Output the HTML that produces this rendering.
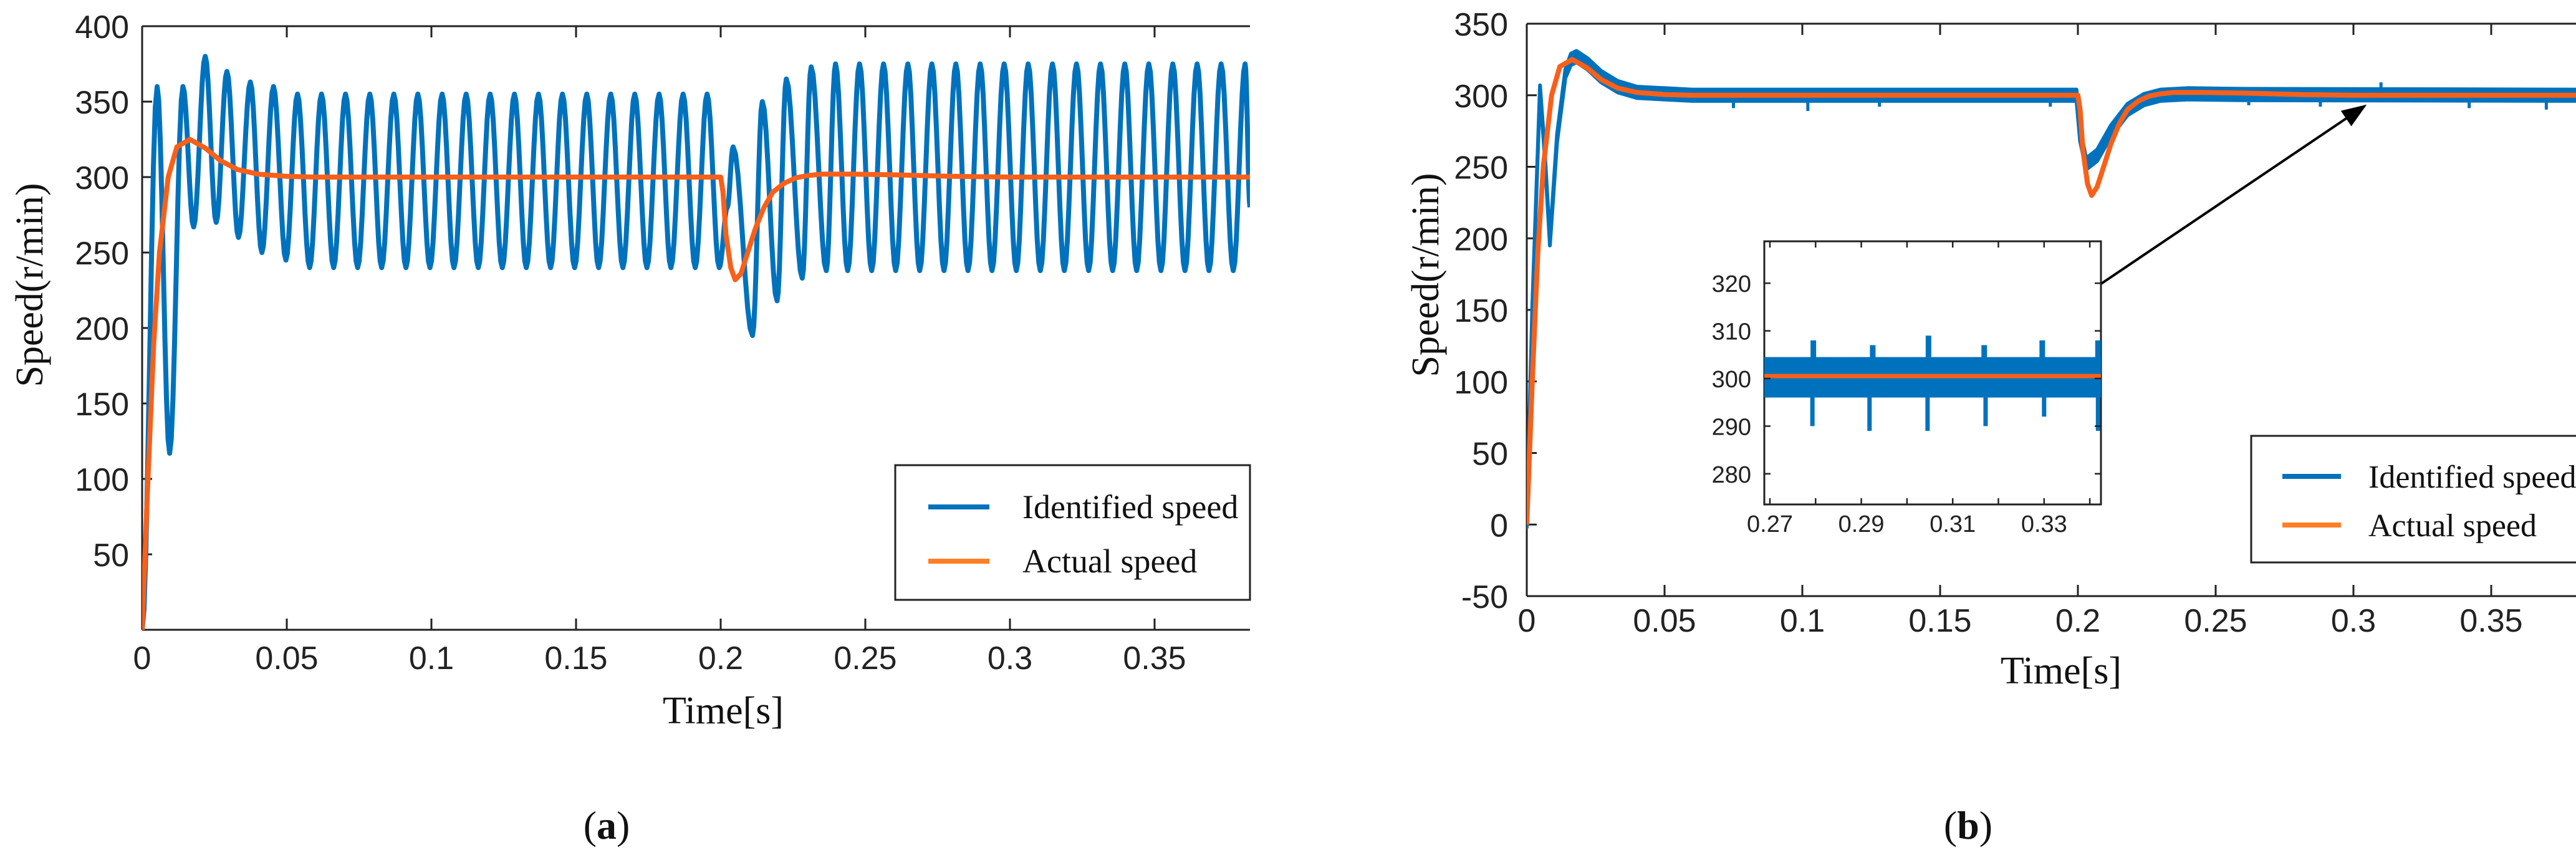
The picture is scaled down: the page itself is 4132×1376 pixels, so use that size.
<!DOCTYPE html>
<html><head><meta charset="utf-8"><style>
html,body{margin:0;padding:0;background:#fff;}
svg{display:block;}
.tk{font-family:"Liberation Sans",sans-serif;font-size:52px;fill:#222;}
.tki{font-family:"Liberation Sans",sans-serif;font-size:38px;fill:#222;}
.sr{font-family:"Liberation Serif",serif;fill:#111;}
</style></head><body>
<svg id="fig" width="4132" height="1376" viewBox="0 0 4132 1376" xmlns="http://www.w3.org/2000/svg">
<defs>
<clipPath id="ca"><rect x="228" y="30" width="1777" height="990"/></clipPath>
<clipPath id="cb"><rect x="2449" y="30" width="1683" height="930"/></clipPath>
<clipPath id="ci"><rect x="2830" y="387" width="540" height="422"/></clipPath>
<marker id="ah" markerWidth="40" markerHeight="30" refX="36" refY="15" orient="auto" markerUnits="userSpaceOnUse" viewBox="0 0 40 30"><path d="M0,0 L40,15 L0,30 z" fill="#000"/></marker>
</defs>
<g id="pa"></g>
<g id="pb"></g>
</svg>
<script>
// ---- Panel (a) data ----
const aBlueT = [0,0.0052,0.0095,0.0141,0.0178,0.0218,0.0256,0.0293,0.0333,0.0374,0.0414,0.0454,0.0497,0.0537,
0.0579,0.0620,0.0662,0.0703,0.0745,0.0787,0.0828,0.0870,0.0912,0.0953,0.0995,0.1037,0.1078,0.1120,0.1162,0.1203,0.1245,0.1287,0.1328,0.1370,0.1412,0.1453,0.1495,0.1537,0.1578,0.1620,0.1662,0.1703,0.1745,0.1787,0.1828,0.1870,0.1912,0.1953,0.1995,
0.2023,0.2043,0.2110,0.2144,0.2195,0.2227,0.2282,0.2313,0.2365,0.2397,
0.2439,0.2480,0.2522,0.2563,0.2605,0.2647,0.2688,0.2730,0.2772,0.2813,0.2855,0.2897,0.2938,0.2980,0.3022,0.3063,0.3105,0.3147,0.3188,0.3230,0.3272,0.3313,0.3355,0.3397,0.3438,0.3480,0.3522,0.3563,0.3605,0.3647,0.3688,0.3730,0.3772,0.3813,0.3830];
const aBlueV = [0,360,117,360,267,380,270,370,260,363,250,360,245,355,
240,355,240,355,240,355,240,355,240,355,240,355,240,355,240,355,240,355,240,355,240,355,240,355,240,355,240,355,240,355,240,355,240,355,240,
280,320,195,350,218,365,233,373,238,375,
238,375,238,375,238,375,238,375,238,375,238,375,238,375,238,375,238,375,238,375,238,375,238,375,238,375,238,375,238,375,238,375,238,375,280];
const aActT = [0,0.002,0.004,0.006,0.009,0.012,0.0165,0.022,0.027,0.033,0.04,0.05,0.06,0.2,0.2008,0.2018,0.2035,0.205,0.207,0.209,0.212,0.215,0.218,0.222,0.226,0.23,0.235,0.245,0.26,0.28,0.3,0.383];
const aActV = [0,100,190,250,300,320,325,319,311,305,302,300.5,300,300,290,262,240,232,236,248,266,280,290,296,299.5,301,302,302,301.5,300.5,300,300];
const aXTicks = [0,0.05,0.1,0.15,0.2,0.25,0.3,0.35];
const aXLabels = ["0","0.05","0.1","0.15","0.2","0.25","0.3","0.35"];
const aYTicks = [50,100,150,200,250,300,350,400];
const aYLabels = ["50","100","150","200","250","300","350","400"];

// ---- Panel (b) data ----
const bBlueT = [0,0.002,0.0048,0.0065,0.0084,0.011,0.014,0.016,0.018,0.022,0.027,0.033,0.04,0.05,0.06,0.1995,0.2008,0.203,0.207,0.212,0.218,0.224,0.23,0.24,0.26,0.381];
const bBlueV = [0,150,305,260,197,270,315,325,327,322,313,306,302,301,300,300,272,252,258,275,290,297,300,301,300.5,300];
const bBlueAmp = [2,2,2,2,2,3,3,4,4,4,4,4,4,4,4,4,4,4,4,4,4,4,4,4,4,4];
const bSpikeT = [0.075,0.102,0.128,0.19,0.262,0.288,0.31,0.342,0.37];
const bSpikeV = [291,289,292,292,293,292,309,291,290];
const bActT = [0,0.002,0.004,0.006,0.009,0.012,0.0165,0.022,0.027,0.033,0.04,0.05,0.06,0.2,0.2008,0.2018,0.2035,0.205,0.207,0.209,0.212,0.215,0.218,0.222,0.226,0.23,0.235,0.245,0.26,0.28,0.3,0.381];
const bActV = [0,100,190,250,300,320,325,319,311,305,302,300.5,300,300,290,262,238,230,236,248,266,280,290,296,299.5,301,302,302,301.5,300.5,300,300];
const bXTicks = [0,0.05,0.1,0.15,0.2,0.25,0.3,0.35];
const bXLabels = ["0","0.05","0.1","0.15","0.2","0.25","0.3","0.35"];
const bYTicks = [-50,0,50,100,150,200,250,300,350];
const bYLabels = ["-50","0","50","100","150","200","250","300","350"];

// ---- Inset data ----
const iSpikeUpT = [0.2795,0.2925,0.3047,0.3169,0.3296,0.3418];
const iSpikeUpV = [308,307,309,307,308,308];
const iSpikeDnT = [0.2793,0.2918,0.3045,0.3172,0.3300,0.3418];
const iSpikeDnV = [290,289,289,290,292,289];
const iBand = [296,304.5];
const iActV = 300.5;
const iXTicks = [0.27,0.29,0.31,0.33];
const iXLabels = ["0.27","0.29","0.31","0.33"];
const iYTicks = [280,290,300,310,320];
const iYLabels = ["280","290","300","310","320"];

const NS = "http://www.w3.org/2000/svg";
function mk(tag, attrs, parent){const e=document.createElementNS(NS,tag);for(const k in attrs)e.setAttribute(k,attrs[k]);parent.appendChild(e);return e;}

const xa=t=>228+t/0.05*232, ya=v=>1010-v*968/400;
const xb=t=>2449+t/0.05*221, yb=v=>956-(v+50)*918/400;
const xi=t=>2839+(t-0.27)/0.01*73.3, yi=v=>607-(v-300)*7.64;

const BLUE="#0072BD", ORANGE="#F8601A";

function cosPath(T,V,fx,fy){let d=`M${fx(T[0])},${fy(V[0])}`;for(let i=1;i<T.length;i++){for(let s=1;s<=8;s++){const f=s/8,w=(1-Math.cos(Math.PI*f))/2;d+=` L${fx(T[i-1]+(T[i]-T[i-1])*f).toFixed(1)},${fy(V[i-1]+(V[i]-V[i-1])*w).toFixed(1)}`;}}return d;}
function linPath(T,V,fx,fy){return T.map((t,i)=>(i?'L':'M')+fx(t).toFixed(1)+','+fy(V[i]).toFixed(1)).join(' ');}

// ===== Panel a =====
const pa=document.getElementById('pa');
let e;
e=mk('line',{x1:228,y1:42,x2:2005,y2:42,stroke:'#222','stroke-width':3},pa);


e=mk('line',{x1:228,y1:1010,x2:2005,y2:1010,stroke:'#222','stroke-width':3},pa);


e=mk('line',{x1:228,y1:42,x2:228,y2:1010,stroke:'#222','stroke-width':3},pa);


aXTicks.forEach((t,i)=>{const x=xa(t);
 mk('line',{x1:x,y1:1010,x2:x,y2:992,stroke:'#222','stroke-width':3},pa);
 mk('line',{x1:x,y1:42,x2:x,y2:60,stroke:'#222','stroke-width':3},pa);
 const l=mk('text',{x:x,y:1073,'text-anchor':'middle',class:'tk'},pa);l.textContent=aXLabels[i];
 
 });
aYTicks.forEach((v,i)=>{const y=ya(v);
 mk('line',{x1:228,y1:y,x2:244,y2:y,stroke:'#222','stroke-width':3},pa);
 const l=mk('text',{x:207,y:y+19,'text-anchor':'end',class:'tk'},pa);l.textContent=aYLabels[i];
 
 });
const ga=mk('g',{'clip-path':'url(#ca)'},pa);
e=mk('path',{d:cosPath(aBlueT,aBlueV,xa,ya),fill:'none',stroke:BLUE,'stroke-width':8,'stroke-linejoin':'round'},ga);


e=mk('path',{d:linPath(aActT,aActV,xa,ya),fill:'none',stroke:ORANGE,'stroke-width':8,'stroke-linejoin':'round'},ga);


// legend a
const la=mk('g',{},pa);


mk('rect',{x:1436,y:746,width:569,height:216,fill:'#fff',stroke:'#222','stroke-width':3},la);
mk('line',{x1:1489,y1:813,x2:1587,y2:813,stroke:BLUE,'stroke-width':8},la);
mk('line',{x1:1489,y1:900,x2:1587,y2:900,stroke:'#FF7F27','stroke-width':8},la);
e=mk('text',{x:1640,y:831,class:'sr','font-size':54},la);e.textContent='Identified speed';


e=mk('text',{x:1640,y:918,class:'sr','font-size':54},la);e.textContent='Actual speed';


e=mk('text',{x:1160,y:1160,'text-anchor':'middle',class:'sr','font-size':62},pa);e.textContent='Time[s]';


e=mk('text',{x:0,y:0,'text-anchor':'middle',class:'sr','font-size':62,transform:'translate(68,457) rotate(-90)'},pa);e.textContent='Speed(r/min)';


e=mk('text',{x:973,y:1345,'text-anchor':'middle',class:'sr','font-size':64},pa);e.innerHTML='(<tspan font-weight="bold">a</tspan>)';



// ===== Panel b =====
const pb=document.getElementById('pb');
e=mk('line',{x1:2449,y1:38,x2:4132,y2:38,stroke:'#222','stroke-width':3},pb);


e=mk('line',{x1:2449,y1:956,x2:4132,y2:956,stroke:'#222','stroke-width':3},pb);


e=mk('line',{x1:2449,y1:38,x2:2449,y2:956,stroke:'#222','stroke-width':3},pb);


bXTicks.forEach((t,i)=>{const x=xb(t);
 mk('line',{x1:x,y1:956,x2:x,y2:938,stroke:'#222','stroke-width':3},pb);
 mk('line',{x1:x,y1:38,x2:x,y2:56,stroke:'#222','stroke-width':3},pb);
 const l=mk('text',{x:x,y:1013,'text-anchor':'middle',class:'tk'},pb);l.textContent=bXLabels[i];
 
 });
bYTicks.forEach((v,i)=>{const y=yb(v);
 mk('line',{x1:2449,y1:y,x2:2465,y2:y,stroke:'#222','stroke-width':3},pb);
 const l=mk('text',{x:2419,y:y+19,'text-anchor':'end',class:'tk'},pb);l.textContent=bYLabels[i];
 
 });
const gb=mk('g',{'clip-path':'url(#cb)'},pb);
let up=[],dn=[];
for(let i=0;i<bBlueT.length;i++){up.push(xb(bBlueT[i]).toFixed(1)+','+yb(bBlueV[i]+bBlueAmp[i]).toFixed(1));dn.push(xb(bBlueT[i]).toFixed(1)+','+yb(bBlueV[i]-bBlueAmp[i]).toFixed(1));}
e=mk('polygon',{points:up.concat(dn.reverse()).join(' '),fill:BLUE,stroke:BLUE,'stroke-width':6,'stroke-linejoin':'round'},gb);


bSpikeT.forEach((t,i)=>{const s=mk('line',{x1:xb(t),y1:yb(300),x2:xb(t),y2:yb(bSpikeV[i]),stroke:BLUE,'stroke-width':5},gb);
 
 });
e=mk('path',{d:linPath(bActT,bActV,xb,yb),fill:'none',stroke:ORANGE,'stroke-width':8,'stroke-linejoin':'round'},gb);


// arrow
e=mk('line',{x1:3317,y1:491,x2:3793,y2:170,stroke:'#000','stroke-width':4,'marker-end':'url(#ah)'},pb);


// inset
const gi=mk('g',{},pb);


mk('rect',{x:2830,y:387,width:540,height:422,fill:'#fff',stroke:'#222','stroke-width':3},gi);
const gic=mk('g',{'clip-path':'url(#ci)'},gi);
e=mk('rect',{x:2830,y:yi(iBand[1]),width:540,height:yi(iBand[0])-yi(iBand[1]),fill:BLUE},gic);


iSpikeUpT.forEach((t,i)=>{const s=mk('line',{x1:xi(t),y1:yi(300),x2:xi(t),y2:yi(iSpikeUpV[i]),stroke:BLUE,'stroke-width':9},gic);
 
 });
iSpikeDnT.forEach((t,i)=>{const s=mk('line',{x1:xi(t),y1:yi(300),x2:xi(t),y2:yi(iSpikeDnV[i]),stroke:BLUE,'stroke-width':7},gic);
 
 });
e=mk('line',{x1:2830,y1:yi(iActV),x2:3370,y2:yi(iActV),stroke:ORANGE,'stroke-width':7},gic);


[0.27,0.28,0.29,0.30,0.31,0.32,0.33,0.34].forEach(t=>{const x=xi(t);
 mk('line',{x1:x,y1:809,x2:x,y2:799,stroke:'#222','stroke-width':2.5},gi);
 mk('line',{x1:x,y1:387,x2:x,y2:397,stroke:'#222','stroke-width':2.5},gi);});
iXTicks.forEach((t,i)=>{const l=mk('text',{x:xi(t),y:853,'text-anchor':'middle',class:'tki'},gi);l.textContent=iXLabels[i];
 
 });
iYTicks.forEach((v,i)=>{const y=yi(v);
 mk('line',{x1:2830,y1:y,x2:2840,y2:y,stroke:'#222','stroke-width':2.5},gi);
 mk('line',{x1:3370,y1:y,x2:3360,y2:y,stroke:'#222','stroke-width':2.5},gi);
 const l=mk('text',{x:2809,y:y+14,'text-anchor':'end',class:'tki'},gi);l.textContent=iYLabels[i];
 
 });
// legend b
const lb=mk('g',{},pb);


mk('rect',{x:3611,y:699,width:540,height:203,fill:'#fff',stroke:'#222','stroke-width':3},lb);
mk('line',{x1:3661,y1:764,x2:3755,y2:764,stroke:BLUE,'stroke-width':8},lb);
mk('line',{x1:3661,y1:842,x2:3755,y2:842,stroke:'#FF7F27','stroke-width':8},lb);
e=mk('text',{x:3799,y:782,class:'sr','font-size':52},lb);e.textContent='Identified speed';


e=mk('text',{x:3799,y:860,class:'sr','font-size':52},lb);e.textContent='Actual speed';


e=mk('text',{x:3306,y:1096,'text-anchor':'middle',class:'sr','font-size':62},pb);e.textContent='Time[s]';


e=mk('text',{x:0,y:0,'text-anchor':'middle',class:'sr','font-size':62,transform:'translate(2307,441) rotate(-90)'},pb);e.textContent='Speed(r/min)';


e=mk('text',{x:3157,y:1345,'text-anchor':'middle',class:'sr','font-size':64},pb);e.innerHTML='(<tspan font-weight="bold">b</tspan>)';


</script>
</body></html>
